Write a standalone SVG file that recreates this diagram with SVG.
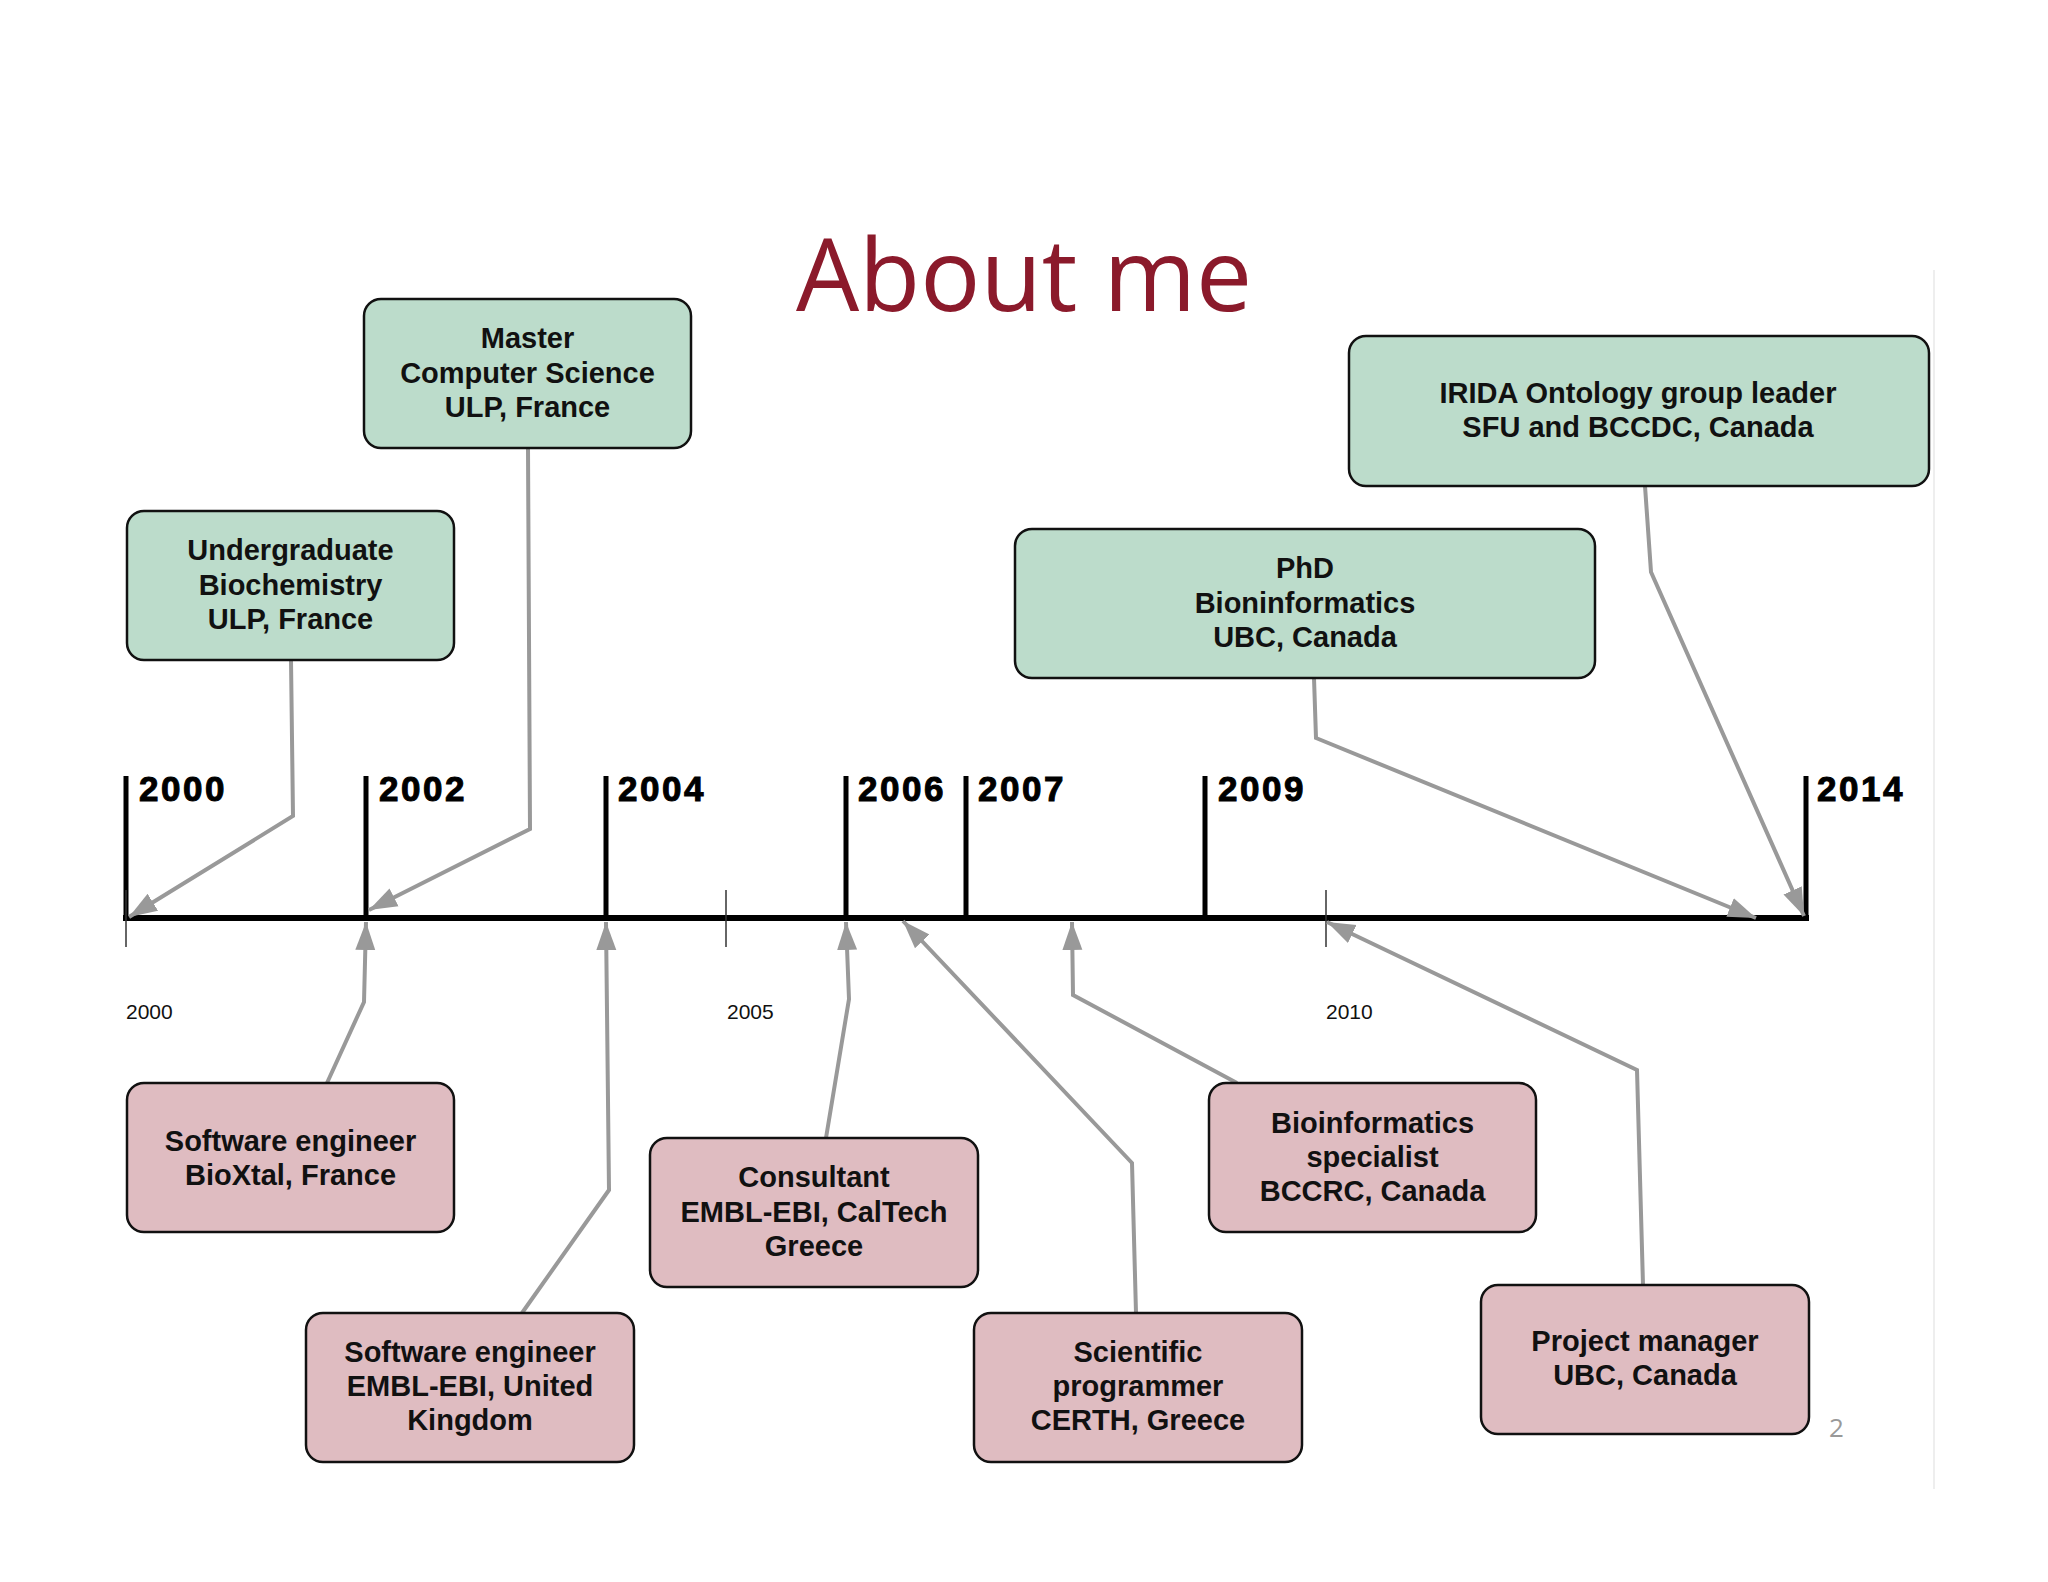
<svg xmlns="http://www.w3.org/2000/svg" width="2048" height="1582" viewBox="0 0 2048 1582">
<style>
.box{stroke:#111;stroke-width:2.5}
.edu{fill:#bcdccb}
.job{fill:#dfbcc1}
.t{font-family:"Liberation Sans",Arial,sans-serif;font-weight:bold;font-size:29px;fill:#111;text-anchor:middle}
.yr{font-family:"Liberation Sans",Arial,sans-serif;font-weight:bold;font-size:35px;letter-spacing:2.5px;fill:#000;stroke:#000;stroke-width:1}
.sm{font-family:"Liberation Sans",Arial,sans-serif;font-size:21px;fill:#111}
.con{fill:none;stroke:#999;stroke-width:4;stroke-linejoin:miter;marker-end:url(#ah)}
</style>
<defs>
<marker id="ah" markerUnits="userSpaceOnUse" markerWidth="30" markerHeight="24" viewBox="0 0 30 24" refX="28" refY="12" orient="auto">
<path d="M0,2 L28,12 L0,22 Z" fill="#999"/>
</marker>
</defs>
<rect width="2048" height="1582" fill="#fff"/>
<line x1="1934" y1="270" x2="1934" y2="1489" stroke="#eeeeee" stroke-width="2"/>
<text x="1024" y="311" font-family="'Open Sans',sans-serif" font-size="100" fill="#8b1a2b" text-anchor="middle">About me</text>

<g id="timeline">
<line x1="123" y1="918" x2="1809" y2="918" stroke="#000" stroke-width="6"/>
<g stroke="#000" stroke-width="5">
<line x1="126" y1="776" x2="126" y2="921"/>
<line x1="366" y1="776" x2="366" y2="921"/>
<line x1="606" y1="776" x2="606" y2="921"/>
<line x1="846" y1="776" x2="846" y2="921"/>
<line x1="966" y1="776" x2="966" y2="921"/>
<line x1="1205" y1="776" x2="1205" y2="921"/>
<line x1="1806" y1="776" x2="1806" y2="921"/>
</g>
<g stroke="#333" stroke-width="1.5">
<line x1="126" y1="890" x2="126" y2="947"/>
<line x1="726" y1="890" x2="726" y2="947"/>
<line x1="1326" y1="890" x2="1326" y2="947"/>
</g>
<text class="yr" x="139" y="801">2000</text>
<text class="yr" x="379" y="801">2002</text>
<text class="yr" x="618" y="801">2004</text>
<text class="yr" x="858" y="801">2006</text>
<text class="yr" x="978" y="801">2007</text>
<text class="yr" x="1218" y="801">2009</text>
<text class="yr" x="1817" y="801">2014</text>
<text class="sm" x="126" y="1019">2000</text>
<text class="sm" x="727" y="1019">2005</text>
<text class="sm" x="1326" y="1019">2010</text>
</g>

<g id="connectors">
<polyline class="con" points="291,660 293,816 129,917"/>
<polyline class="con" points="528,448 530,829 369,910"/>
<polyline class="con" points="1314,678 1316,738 1756,918"/>
<polyline class="con" points="1645,486 1651,572 1804,916"/>
<polyline class="con" points="327,1083 364,1002 366,922"/>
<polyline class="con" points="522,1313 609,1190 606,922"/>
<polyline class="con" points="826,1138 849,999 846,922"/>
<polyline class="con" points="1136,1313 1132,1163 903,921"/>
<polyline class="con" points="1237,1083 1073,995 1072,922"/>
<polyline class="con" points="1643,1285 1637,1070 1327,922"/>
</g>

<g id="undergrad">
<rect class="box edu" x="127" y="511" width="327" height="149" rx="17"/>
<text class="t" x="290.5" y="560">Undergraduate</text>
<text class="t" x="290.5" y="595">Biochemistry</text>
<text class="t" x="290.5" y="629">ULP, France</text>
</g>
<g id="master">
<rect class="box edu" x="364" y="299" width="327" height="149" rx="17"/>
<text class="t" x="527.5" y="348">Master</text>
<text class="t" x="527.5" y="383">Computer Science</text>
<text class="t" x="527.5" y="417">ULP, France</text>
</g>
<g id="phd">
<rect class="box edu" x="1015" y="529" width="580" height="149" rx="17"/>
<text class="t" x="1305" y="578">PhD</text>
<text class="t" x="1305" y="613">Bioninformatics</text>
<text class="t" x="1305" y="647">UBC, Canada</text>
</g>
<g id="irida">
<rect class="box edu" x="1349" y="336" width="580" height="150" rx="17"/>
<text class="t" x="1638" y="403">IRIDA Ontology group leader</text>
<text class="t" x="1638" y="437">SFU and BCCDC, Canada</text>
</g>
<g id="bioxtal">
<rect class="box job" x="127" y="1083" width="327" height="149" rx="17"/>
<text class="t" x="290.5" y="1151">Software engineer</text>
<text class="t" x="290.5" y="1185">BioXtal, France</text>
</g>
<g id="emblebi">
<rect class="box job" x="306" y="1313" width="328" height="149" rx="17"/>
<text class="t" x="470" y="1362">Software engineer</text>
<text class="t" x="470" y="1396">EMBL-EBI, United</text>
<text class="t" x="470" y="1430">Kingdom</text>
</g>
<g id="consultant">
<rect class="box job" x="650" y="1138" width="328" height="149" rx="17"/>
<text class="t" x="814" y="1187">Consultant</text>
<text class="t" x="814" y="1222">EMBL-EBI, CalTech</text>
<text class="t" x="814" y="1256">Greece</text>
</g>
<g id="scientific">
<rect class="box job" x="974" y="1313" width="328" height="149" rx="17"/>
<text class="t" x="1138" y="1362">Scientific</text>
<text class="t" x="1138" y="1396">programmer</text>
<text class="t" x="1138" y="1430">CERTH, Greece</text>
</g>
<g id="bccrc">
<rect class="box job" x="1209" y="1083" width="327" height="149" rx="17"/>
<text class="t" x="1372.5" y="1133">Bioinformatics</text>
<text class="t" x="1372.5" y="1167">specialist</text>
<text class="t" x="1372.5" y="1201">BCCRC, Canada</text>
</g>
<g id="pm">
<rect class="box job" x="1481" y="1285" width="328" height="149" rx="17"/>
<text class="t" x="1645" y="1351">Project manager</text>
<text class="t" x="1645" y="1385">UBC, Canada</text>
</g>
<text x="1829" y="1437" font-family="'Open Sans',sans-serif" font-size="26" fill="#999">2</text>
</svg>
